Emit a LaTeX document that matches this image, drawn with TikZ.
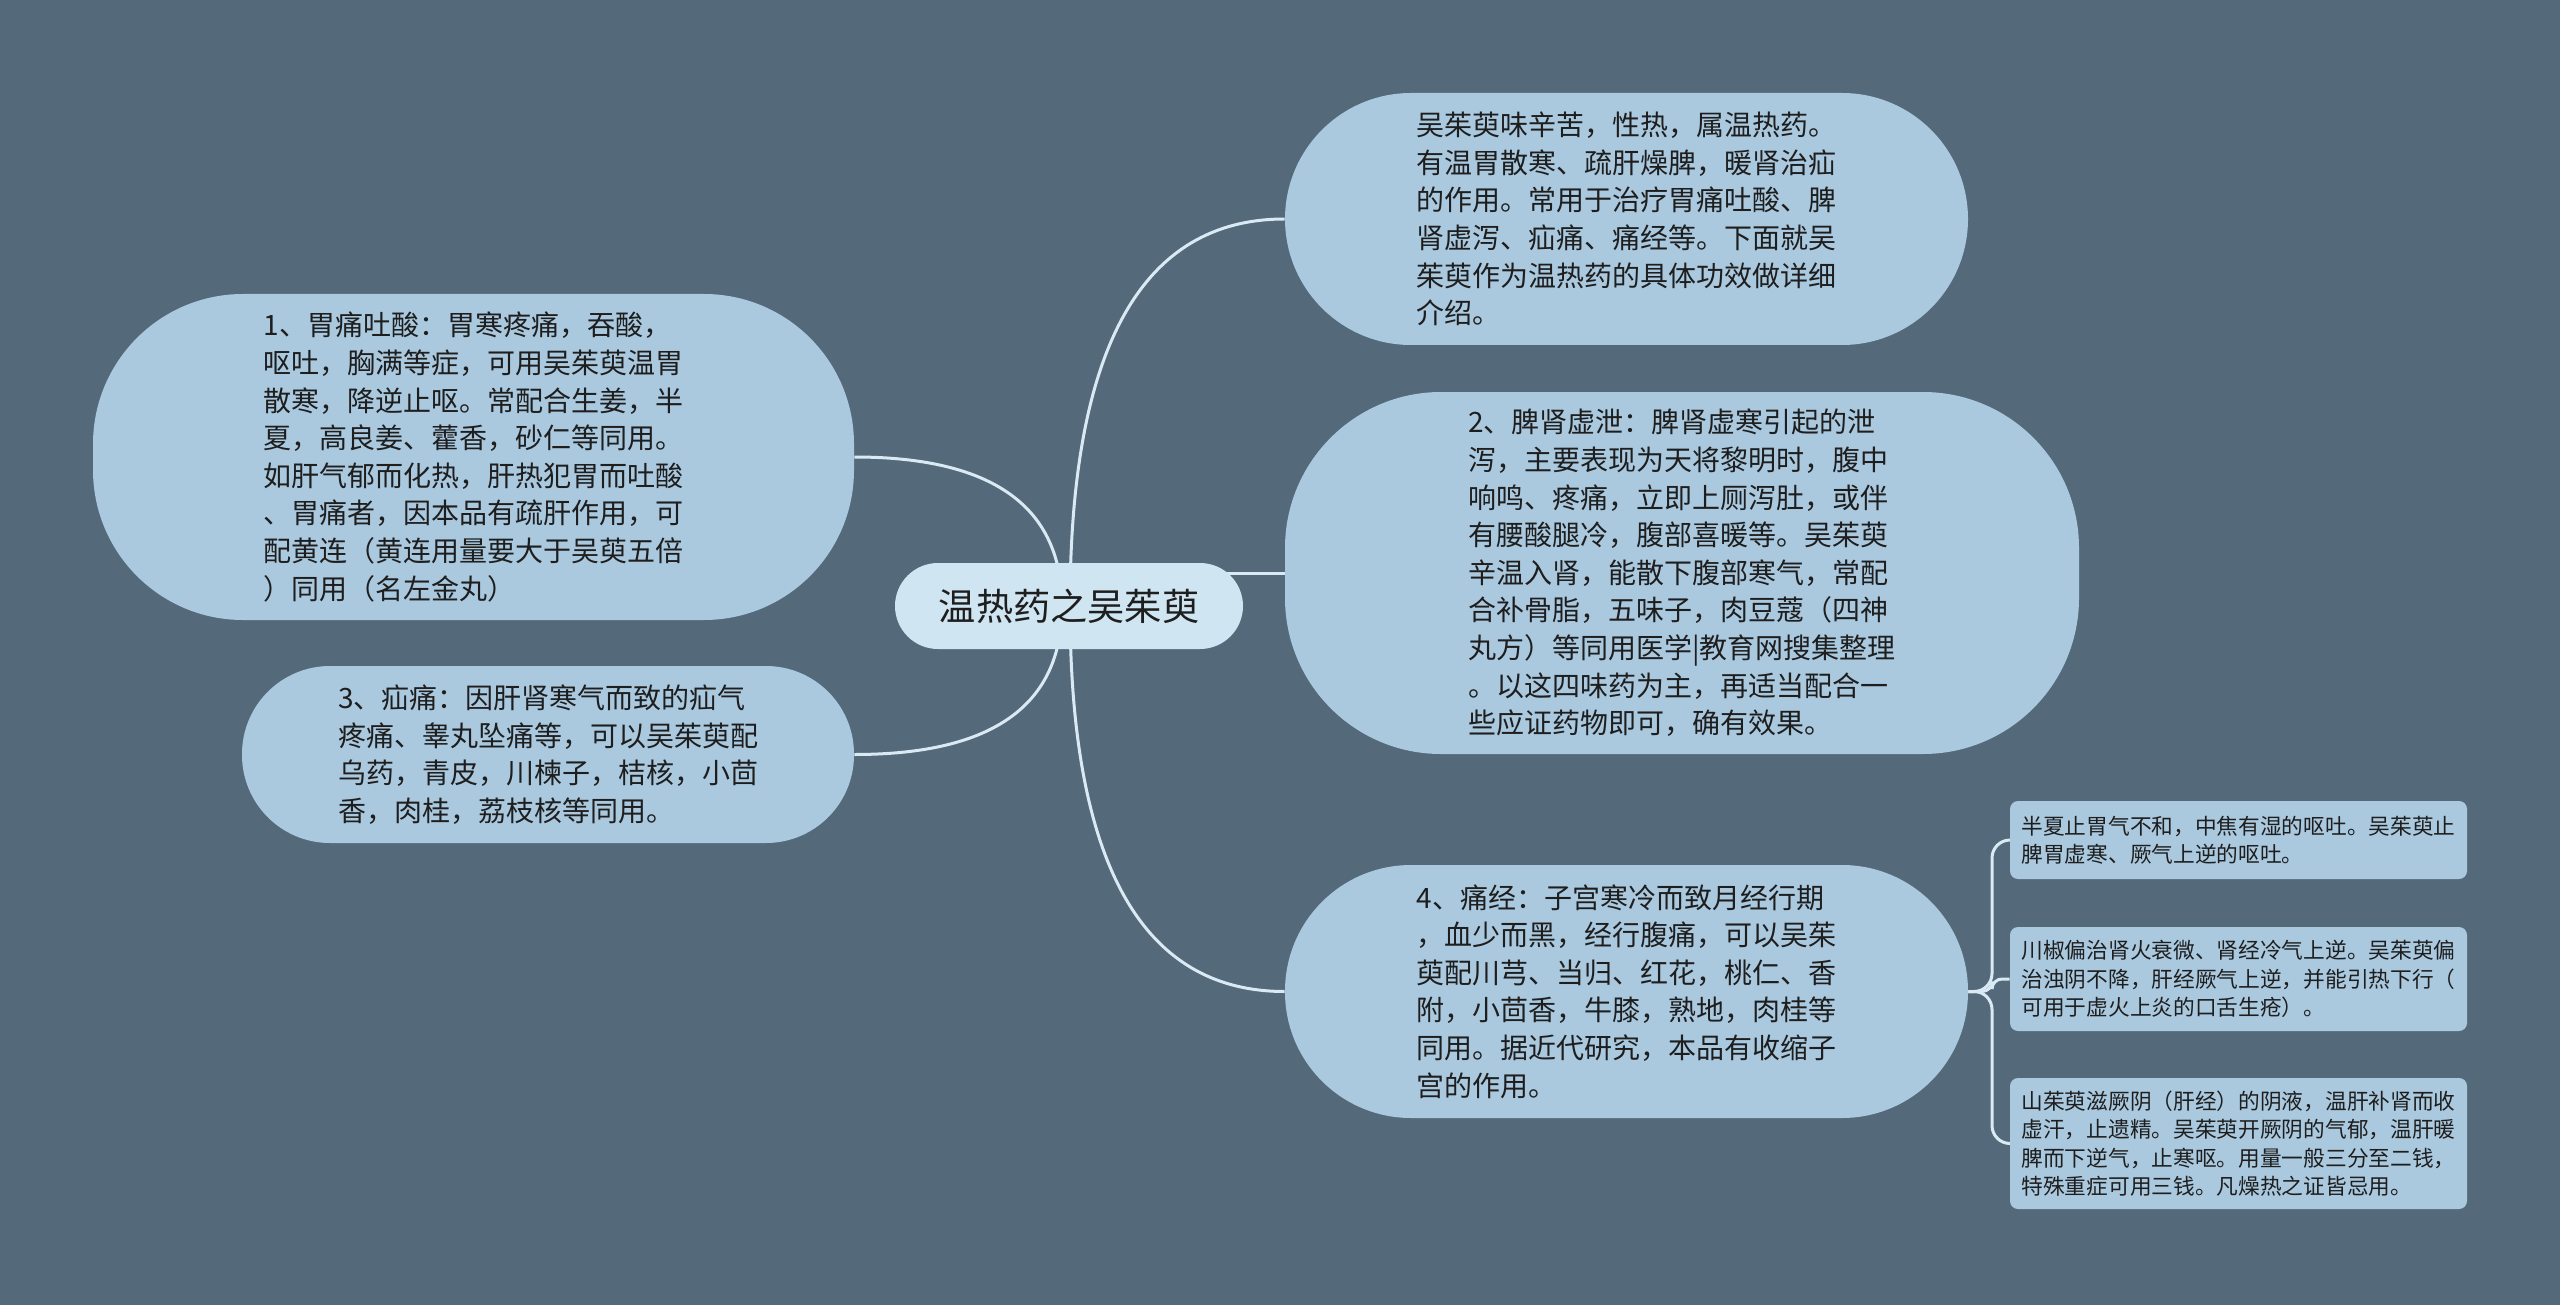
\documentclass[tikz,border=0pt]{standalone}
\usepackage{fontspec}
\setmainfont{Noto Sans CJK SC}
\usetikzlibrary{backgrounds}
\definecolor{bgc}{RGB}{84,105,122}
\definecolor{nodefill}{RGB}{170,201,223}
\definecolor{rootfill}{RGB}{207,229,241}
\definecolor{linec}{RGB}{218,234,244}
\definecolor{txt}{RGB}{30,30,30}
\begin{document}
\begin{tikzpicture}[x=0.5pt,y=-0.5pt,
  mainbox/.style={fill=nodefill, text=txt, align=left, inner sep=0pt,
    font=\fontsize{14pt}{18.8pt}\selectfont},
  smallbox/.style={fill=nodefill, text=txt, align=left, inner sep=0pt, rounded corners=4pt,
    minimum width=228.5pt, font=\fontsize{10.85pt}{14.15pt}\selectfont},
  rootbox/.style={fill=rootfill, text=txt, inner sep=0pt, rounded corners=21.5pt,
    minimum width=174pt, minimum height=43pt, font=\fontsize{18.6pt}{24pt}\selectfont},
  link/.style={draw=linec, line width=1.5pt}]
\useasboundingbox (0,0) rectangle (2560,1305);

\node[rootbox] (root) at (1069,606) {温热药之吴茱萸};

\node[mainbox, minimum width=341.5pt, minimum height=126pt, rounded corners=63pt] (A) at (1626.5,219) {吴茱萸味辛苦，性热，属温热药。\\有温胃散寒、疏肝燥脾，暖肾治疝\\的作用。常用于治疗胃痛吐酸、脾\\肾虚泻、疝痛、痛经等。下面就吴\\茱萸作为温热药的具体功效做详细\\介绍。};

\node[mainbox, minimum width=397pt, minimum height=181pt, rounded corners=78pt] (B) at (1682,573) {2、脾肾虚泄：脾肾虚寒引起的泄\\泻，主要表现为天将黎明时，腹中\\响鸣、疼痛，立即上厕泻肚，或伴\\有腰酸腿冷，腹部喜暖等。吴茱萸\\辛温入肾，能散下腹部寒气，常配\\合补骨脂，五味子，肉豆蔻（四神\\丸方）等同用医学|教育网搜集整理\\。以这四味药为主，再适当配合一\\些应证药物即可，确有效果。};

\node[mainbox, minimum width=380.5pt, minimum height=163pt, rounded corners=75pt] (C) at (473.5,457) {1、胃痛吐酸：胃寒疼痛，吞酸，\\呕吐，胸满等症，可用吴茱萸温胃\\散寒，降逆止呕。常配合生姜，半\\夏，高良姜、藿香，砂仁等同用。\\如肝气郁而化热，肝热犯胃而吐酸\\、胃痛者，因本品有疏肝作用，可\\配黄连（黄连用量要大于吴萸五倍\\）同用（名左金丸）};

\node[mainbox, minimum width=306pt, minimum height=88.5pt, rounded corners=44pt] (D) at (548,754.5) {3、疝痛：因肝肾寒气而致的疝气\\疼痛、睾丸坠痛等，可以吴茱萸配\\乌药，青皮，川楝子，桔核，小茴\\香，肉桂，荔枝核等同用。};

\node[mainbox, minimum width=341.5pt, minimum height=126.5pt, rounded corners=63pt] (E) at (1626.5,991.5) {4、痛经：子宫寒冷而致月经行期\\，血少而黑，经行腹痛，可以吴茱\\萸配川芎、当归、红花，桃仁、香\\附，小茴香，牛膝，熟地，肉桂等\\同用。据近代研究，本品有收缩子\\宫的作用。};

\node[smallbox, minimum height=39pt] (E1) at (2238.5,840) {半夏止胃气不和，中焦有湿的呕吐。吴茱萸止\\脾胃虚寒、厥气上逆的呕吐。};

\node[smallbox, minimum height=52pt] (E2) at (2238.5,979) {川椒偏治肾火衰微、肾经冷气上逆。吴茱萸偏\\治浊阴不降，肝经厥气上逆，并能引热下行（\\可用于虚火上炎的口舌生疮）。};

\node[smallbox, minimum height=65.5pt] (E3) at (2238.5,1143.5) {山茱萸滋厥阴（肝经）的阴液，温肝补肾而收\\虚汗，止遗精。吴茱萸开厥阴的气郁，温肝暖\\脾而下逆气，止寒呕。用量一般三分至二钱，\\特殊重症可用三钱。凡燥热之证皆忌用。};

\coordinate (sR) at (1070,606);
\coordinate (sL) at (1062,606);
\coordinate (J) at (1992,991.5);

\begin{scope}[on background layer]
\fill[bgc] (0,0) rectangle (2560,1305);
\draw[link] (sR) .. controls +(0,-258) and +(-143,0) .. (A.west);
\draw[link] (sR) .. controls +(0,257) and +(-143,0) .. (E.west);
\draw[link] (B.west -| sR) -- (B.west);
\draw[link] (sL) .. controls +(0,-99) and +(139,0) .. (C.east);
\draw[link] (sL) .. controls +(0,99) and +(139,0) .. (D.east);
\draw[link, rounded corners=9pt] (E.east) -- (J) -- (J |- E1.west) -- (E1.west);
\draw[link, rounded corners=5pt] (E.east) -- (J) -- (J |- E2.west) -- (E2.west);
\draw[link, rounded corners=9pt] (E.east) -- (J) -- (J |- E3.west) -- (E3.west);
\end{scope}
\end{tikzpicture}
\end{document}
